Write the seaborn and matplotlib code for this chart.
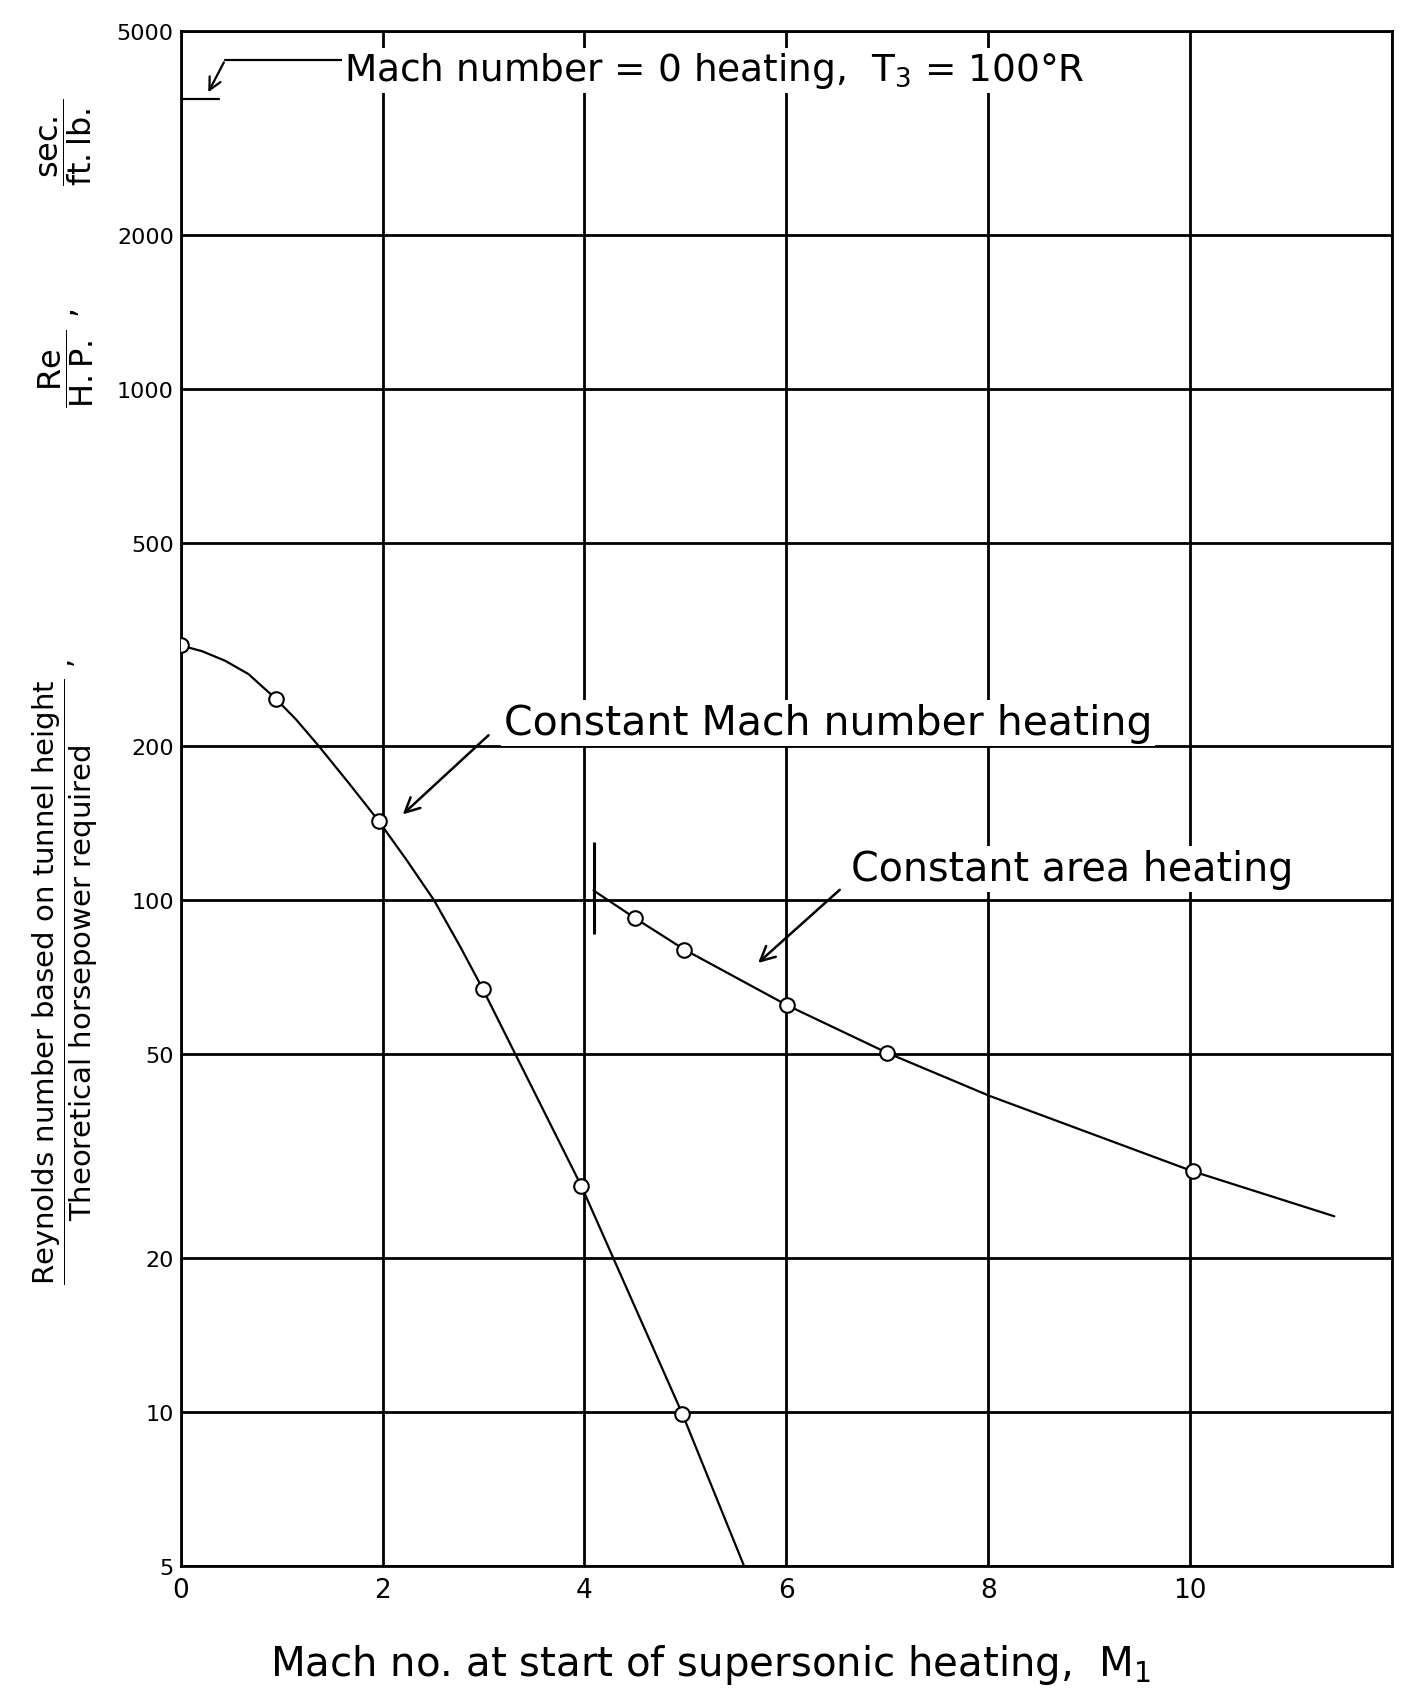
import numpy as np
import pandas as pd
import seaborn as sns
import matplotlib
matplotlib.use("Agg")
import matplotlib.pyplot as plt

# values (log y axis)
mach_path_x = [0, 0.21, 0.44, 0.67, 0.94, 1.14, 1.37, 1.67, 1.96, 2.24, 2.51, 2.77,
               2.99, 3.97, 4.97, 5.58]
mach_path_y = [315, 307, 294, 277, 248, 226, 200, 169, 143, 119.7, 100, 81.1,
               67.2, 27.6, 9.9, 5.0]
mach_pts_x = [0, 0.94, 1.96, 2.99, 3.97, 4.97]
mach_pts_y = [315, 248, 143, 67.2, 27.6, 9.9]

area_path_x = [4.09, 4.5, 4.99, 6.01, 7.0, 8.02, 10.03, 11.43]
area_path_y = [104.5, 92.3, 80.1, 62.3, 50.3, 41.4, 29.5, 24.1]
area_pts_x = [4.5, 4.99, 6.01, 7.0, 10.03]
area_pts_y = [92.3, 80.1, 62.3, 50.3, 29.5]
area_start_x = 4.09
area_start_range = [86, 130]

mach0_value = 3690

y_ticks = [5, 10, 20, 50, 100, 200, 500, 1000, 2000, 5000]
x_ticks = [0, 2, 4, 6, 8, 10, 12]
x_tick_labels = ["0", "2", "4", "6", "8", "10", ""]

sns.set_theme(style="white")
plt.rcParams["font.family"] = ["DejaVu Sans"]
plt.rcParams["mathtext.fontset"] = "dejavusans"
plt.rcParams["text.color"] = "black"

fig = plt.figure(figsize=(14.01, 17.06), dpi=100)
ax = fig.add_axes([0.129, 0.0817, 0.8645, 0.8993])

mach_path = pd.DataFrame({"M1": mach_path_x, "val": mach_path_y})
area_path = pd.DataFrame({"M1": area_path_x, "val": area_path_y})
mach_pts = pd.DataFrame({"M1": mach_pts_x, "val": mach_pts_y})
area_pts = pd.DataFrame({"M1": area_pts_x, "val": area_pts_y})

sns.lineplot(data=mach_path, x="M1", y="val", ax=ax, color="black", lw=1.6,
             sort=False, estimator=None, zorder=4)
sns.lineplot(data=area_path, x="M1", y="val", ax=ax, color="black", lw=1.6,
             sort=False, estimator=None, zorder=4)
for pts in (mach_pts, area_pts):
    sns.scatterplot(data=pts, x="M1", y="val", ax=ax, s=110, marker="o",
                    facecolors="white", edgecolor="black", linewidth=1.5, zorder=5)

# bar at the start of the constant-area curve
ax.vlines(area_start_x, area_start_range[0], area_start_range[1], color="black", lw=2.2, zorder=4)

ax.set_yscale("log")
ax.set_xlim(0, 12)
ax.set_ylim(5, 5000)
ax.set_yticks(y_ticks)
ax.set_yticklabels([str(v) for v in y_ticks])
ax.yaxis.set_minor_locator(matplotlib.ticker.NullLocator())
ax.set_xticks(x_ticks)
ax.set_xticklabels(x_tick_labels)
ax.set_xlabel("")
ax.set_ylabel("")
ax.grid(True, which="major", color="black", lw=2.0)
ax.tick_params(axis="both", length=0, labelsize=16, colors="black")
ax.tick_params(axis="x", pad=8, labelsize=19)
ax.tick_params(axis="y", pad=5)
for s in ax.spines.values():
    s.set_color("black")
    s.set_linewidth(2.0)

box = dict(facecolor="white", edgecolor="none", pad=2)

# M = 0 heating marker and label
ax.plot([0, 0.38], [mach0_value, mach0_value], color="black", lw=1.6, zorder=4)
ax.plot([0.44, 1.6], [4397, 4397], color="black", lw=1.6, zorder=4)
ax.annotate("", xy=(0.26, 3760), xytext=(0.44, 4397),
            arrowprops=dict(arrowstyle="->", color="black", lw=1.6, mutation_scale=22))
ax.text(1.62, 4200, r"Mach number = 0 heating,  T$_3$ = 100°R", fontsize=27,
        va="center", ha="left", bbox=box, zorder=6)

ax.text(3.2, 222, "Constant Mach number heating", fontsize=29.5, va="center",
        ha="left", bbox=box, zorder=6)
ax.annotate("", xy=(2.18, 146), xytext=(3.07, 212),
            arrowprops=dict(arrowstyle="->", color="black", lw=1.8, mutation_scale=26))

ax.text(6.64, 115, "Constant area heating", fontsize=28.5, va="center",
        ha="left", bbox=box, zorder=6)
ax.annotate("", xy=(5.7, 74.8), xytext=(6.55, 105.7),
            arrowprops=dict(arrowstyle="->", color="black", lw=1.8, mutation_scale=26))

# axis titles
fig.text(0.507, 0.024, r"Mach no. at start of supersonic heating,  M$_1$",
         fontsize=29, ha="center", va="center")
fig.text(0.047, 0.43,
         r"$\dfrac{\mathrm{Reynolds\ number\ based\ on\ tunnel\ height}}{\mathrm{Theoretical\ horsepower\ required}}$ ,",
         fontsize=21, rotation=90, ha="center", va="center")
fig.text(0.047, 0.79, r"$\dfrac{\mathrm{Re}}{\mathrm{H.P.}}$ ,",
         fontsize=23, rotation=90, ha="center", va="center")
fig.text(0.047, 0.917, r"$\dfrac{\mathrm{sec.}}{\mathrm{ft.lb.}}$",
         fontsize=23, rotation=90, ha="center", va="center")

fig.savefig("out.png", dpi=100)
